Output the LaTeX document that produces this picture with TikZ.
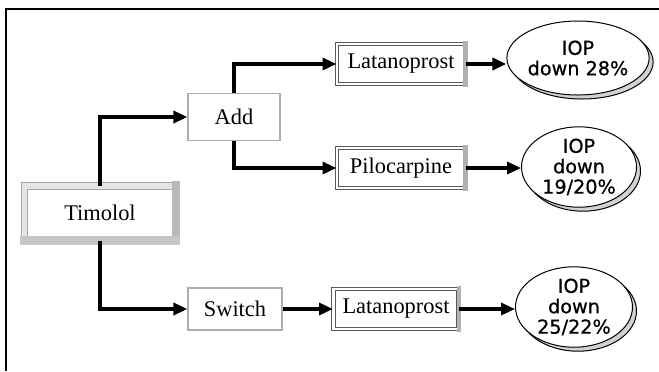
\documentclass[tikz,border=0pt]{standalone}
\usepackage{fontspec}
\setmainfont{Liberation Serif}
\newfontfamily\ellfont[FakeBold=0.6]{DejaVu Sans}
\usetikzlibrary{arrows.meta,shapes.geometric}

\begin{document}
\begin{tikzpicture}[x=0.5pt, y=-0.5pt, >={Triangle[length=7pt,width=6pt]},
  font=\fontsize{11.2}{13}\selectfont,
  link/.style={->, line width=1.7pt},
  plainbox/.style={draw=gray!65, line width=0.6pt, fill=white, inner sep=0pt},
  drugbox/.style={draw=black!65, double=white, double distance=1.3pt, line width=0.5pt, fill=white, inner sep=0pt, minimum height=20pt},
  startbox/.style={draw=gray!70, double=gray!20, double distance=2.6pt, line width=0.5pt, fill=white, inner sep=0pt},
  result/.style={ellipse, draw, line width=0.5pt, fill=white, inner sep=0pt, align=center,
    font=\ellfont\fontsize{9.6}{10.2}\selectfont,
    preaction={draw=black, line width=0.5pt, fill=gray!35, transform canvas={shift={(2pt,-2pt)}}}}]

\useasboundingbox (0,0) rectangle (659,371);

% frame
\draw[line width=1pt] (659,9) -- (6,9) -- (6,371);

% --- Boxes ---
\node[startbox, minimum width=75.5pt, minimum height=27pt] (tim) at (100,213) {Timolol};
\fill[gray!55] ([shift={(-2.1pt,2.1pt)}]tim.north east) rectangle ([shift={(2.1pt,-2.1pt)}]tim.south east);
\fill[gray!45] ([shift={(-2.1pt,-2.1pt)}]tim.south west) rectangle ([shift={(2.1pt,2.1pt)}]tim.south east);
\node[plainbox, minimum width=46pt, minimum height=23.5pt] (add) at (234,117) {Add};
\node[plainbox, minimum width=47pt, minimum height=21pt] (sw) at (235,309) {Switch};
\node[drugbox, minimum width=64pt] (lat1) at (401,64) {Latanoprost};
\node[drugbox, minimum width=64pt] (pilo) at (401,168) {Pilocarpine};
\node[drugbox, minimum width=62.5pt] (lat2) at (396,309) {Latanoprost};
\foreach \n in {lat1,pilo,lat2}
  \fill[gray!60] ([shift={(-1.15pt,1.15pt)}]\n.north east) rectangle ([shift={(1.15pt,-1.15pt)}]\n.south east);

% --- Outcomes ---
\node[result, minimum width=58pt, minimum height=37pt] (e1) at (578,58) {IOP\\down 28\%};
\node[result, minimum width=57.5pt, minimum height=39pt] (e2) at (579,167) {IOP\\down\\19/20\%};
\node[result, minimum width=58.5pt, minimum height=39pt] (e3) at (574,307) {IOP\\down\\25/22\%};

% --- Connectors ---
\draw[link] (tim.north) |- (add.west);
\draw[link] (tim.south) |- (sw.west);
\draw[link] (add.north) |- (lat1.west);
\draw[link] (add.south) |- (pilo.west);
\draw[link] (sw.east) -- (lat2.west);
\draw[link] (lat1.east) -- (lat1.east -| e1.west);
\draw[link] (pilo.east) -- (pilo.east -| e2.west);
\draw[link] (lat2.east) -- (lat2.east -| e3.west);

\end{tikzpicture}
\end{document}
